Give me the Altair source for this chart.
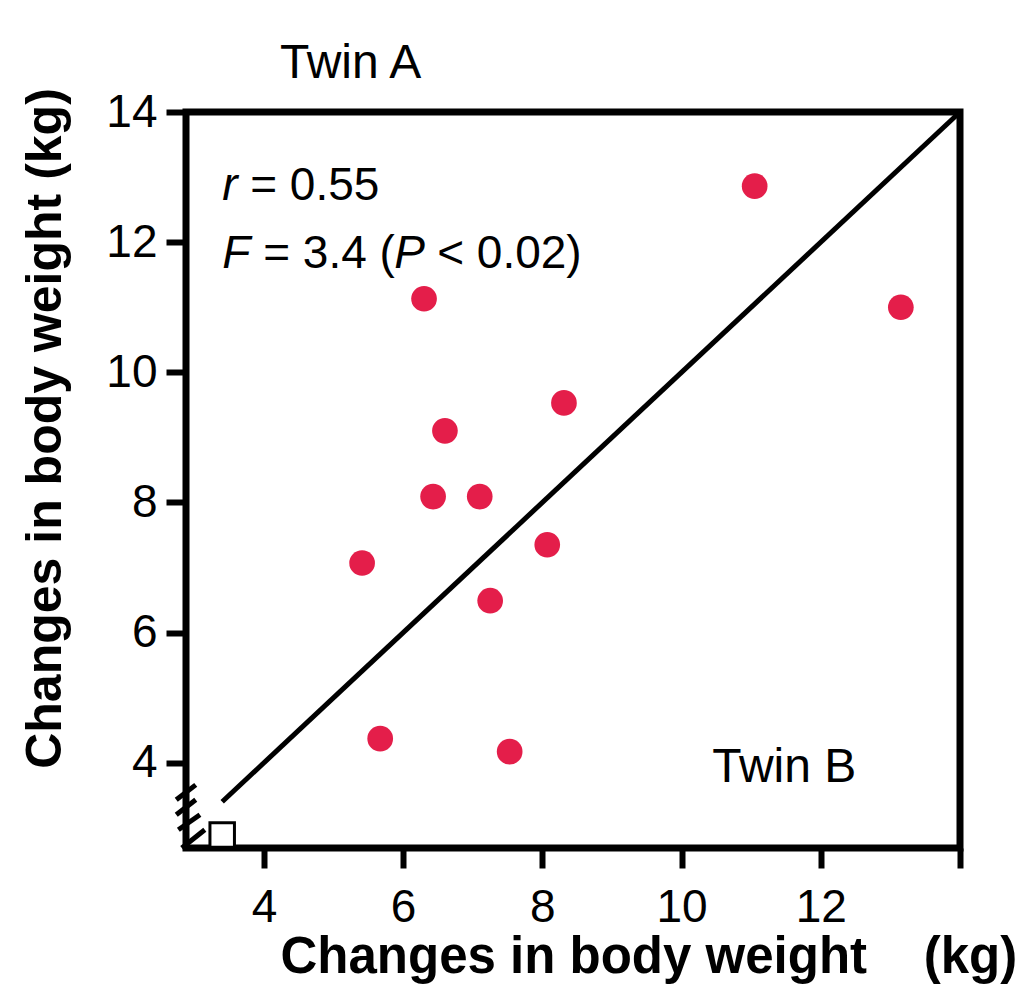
import altair as alt
import pandas as pd

# ---- data ----
twin_b = [11.05, 13.15, 6.30, 8.31, 6.60, 6.43, 7.10, 8.07, 5.41, 7.25, 5.67, 7.53]   # x: Twin B
twin_a = [12.86, 11.00, 11.13, 9.53, 9.10, 8.09, 8.09, 7.35, 7.07, 6.49, 4.37, 4.17]  # y: Twin A

diag_x = [3.4, 14.0]
diag_y = [3.4, 14.0]

x_ticks = [4, 6, 8, 10, 12, 14]
y_ticks = [4, 6, 8, 10, 12, 14]
x_domain = [2.88, 14.0]
y_domain = [2.69, 14.0]

# axis-break decoration (slashes + small square)
brk_x1 = [2.74, 2.74, 2.77, 2.82]
brk_x2 = [3.02, 3.02, 3.08, 3.15]
brk_y1 = [3.43, 3.20, 2.97, 2.69]
brk_y2 = [3.66, 3.43, 3.20, 2.97]
sq_x = [3.40]
sq_y = [2.89]

# annotations
label_x = [4.23, 10.44]
label_y = [14.52, 3.71]
label_t = ["Twin A", "Twin B"]
stat_x = 3.40
stat_y = [12.65, 11.60]

FONT = "Liberation Sans"
RED = "#E41E4A"
FS = 46

xs = alt.Scale(domain=x_domain, nice=False, zero=False)
ys = alt.Scale(domain=y_domain, nice=False, zero=False)

pts = pd.DataFrame({"b": twin_b, "a": twin_a})
diag = pd.DataFrame({"x": diag_x, "y": diag_y})
brk = pd.DataFrame({"x": brk_x1, "x2": brk_x2, "y": brk_y1, "y2": brk_y2})
sq = pd.DataFrame({"x": sq_x, "y": sq_y})
lab = pd.DataFrame({"x": label_x, "y": label_y, "t": label_t})

x_axis = alt.Axis(
    values=x_ticks, labelExpr="datum.value == 14 ? '' : datum.label",
    title="Changes in body weight\u00a0\u00a0\u00a0\u00a0(kg)",
    titleFontSize=51, titleFontWeight="bold", titleFont=FONT, titleColor="black",
    titleAnchor="start", titleAlign="left", titleX=94, titleY=124, titleBaseline="alphabetic",
    labelFontSize=FS, labelFont=FONT, labelColor="black", labelPadding=17,
    tickSize=20, tickWidth=6, tickColor="black", domain=False, grid=False,
)
y_axis = alt.Axis(
    values=y_ticks, title="Changes in body weight (kg)",
    titleFontSize=50, titleFontWeight="bold", titleFont=FONT, titleColor="black",
    titleAngle=-90, titleAlign="center", titleBaseline="middle", titleX=-141, titleY=316,
    labelFontSize=FS, labelFont=FONT, labelColor="black", labelPadding=9,
    tickSize=20, tickWidth=6, tickColor="black", domain=False, grid=False,
)

def X(f):
    return alt.X(f, scale=xs, axis=x_axis)

def Y(f):
    return alt.Y(f, scale=ys, axis=y_axis)

points = alt.Chart(pts).mark_circle(size=660, color=RED, opacity=1).encode(
    x=X("b:Q"), y=Y("a:Q"),
)

line = alt.Chart(diag).mark_line(color="black", strokeWidth=5).encode(
    x=X("x:Q"), y=Y("y:Q")
)

slashes = alt.Chart(brk).mark_rule(color="black", strokeWidth=5).encode(
    x=X("x:Q"), x2="x2:Q", y=Y("y:Q"), y2="y2:Q",
)

square = alt.Chart(sq).mark_point(shape="square", filled=True, fill="white",
                                   stroke="black", strokeWidth=3, size=600, opacity=1).encode(
    x=X("x:Q"), y=Y("y:Q")
)

labels = alt.Chart(lab).mark_text(align="left", baseline="alphabetic", font=FONT,
                                  fontSize=48, color="black").encode(
    x=X("x:Q"), y=Y("y:Q"), text="t:N"
)

def piece(txt, yv, dx, italic=False):
    d = pd.DataFrame({"x": [stat_x], "y": [yv], "t": [txt]})
    return alt.Chart(d).mark_text(align="left", baseline="alphabetic", font=FONT, fontSize=FS,
                                  fontStyle="italic" if italic else "normal",
                                  color="black", dx=dx).encode(
        x=X("x:Q"), y=Y("y:Q"), text="t:N"
    )

stats = [
    piece("r", stat_y[0], 0, True),
    piece("= 0.55", stat_y[0], 28),
    piece("F", stat_y[1], 0, True),
    piece("= 3.4 (", stat_y[1], 41),
    piece("P", stat_y[1], 172, True),
    piece("< 0.02)", stat_y[1], 215),
]

chart = alt.layer(line, points, slashes, square, labels, *stats).properties(
    width=774, height=736,
    autosize=alt.AutoSizeParams(type="none"),
    padding={"left": 178, "top": 104, "right": 66, "bottom": 136},
    background="white",
).configure_view(stroke="black", strokeWidth=7)

chart.save("out.html", embed_options={"renderer": "svg", "actions": False})
